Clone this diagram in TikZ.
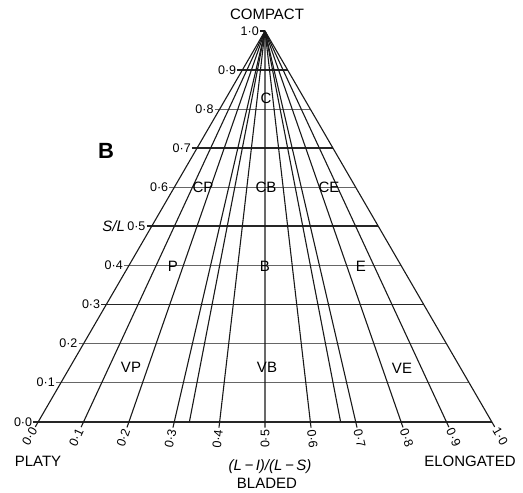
\documentclass[tikz,border=0pt]{standalone}
\usepackage{fontspec}
\setmainfont{Liberation Sans}
\usetikzlibrary{calc}
\begin{document}
\begin{tikzpicture}[x=1pt,y=-1pt,
  lbl/.style={font=\fontsize{15}{15}\selectfont, inner sep=0pt},
  num/.style={font=\fontsize{12.5}{12.5}\selectfont, inner sep=0pt},
  ray/.style={line width=1.1pt, black!90},
  hthin/.style={line width=1pt, black!60},
  hthick/.style={line width=1.8pt, black!85}]
\useasboundingbox (0,0) rectangle (523,493);
\coordinate (A) at (265,31);
\coordinate (L) at (38.3,421.7);
\coordinate (R) at (491.7,421.7);
% level coordinates
\foreach \i in {0,...,10}{
  \pgfmathsetmacro\v{\i/10}
  \coordinate (hl\i) at ($(L)!\v!(A)$);
  \coordinate (hr\i) at ($(R)!\v!(A)$);
  \coordinate (b\i) at ($(L)!\v!(R)$);
}
\coordinate (b13) at ($(L)!0.33333!(R)$);
\coordinate (b23) at ($(L)!0.66667!(R)$);
% horizontal lines
\foreach \i/\st in {1/hthin,2/hthin,3/hthick,4/hthin,5/hthick,6/hthin,7/hthick,8/hthin,9/hthick}{
  \draw[\st] ([xshift=-5pt]hl\i) -- (hr\i);
}
\draw[hthick] ([xshift=-5pt]hl0) -- (R);
\draw[ray] ([xshift=-5pt]A) -- (A);
% radial lines
\foreach \i in {0,...,10}{
  \draw[ray] (A) -- ($(b\i)!-6pt!(A)$);
}
\draw[ray] (A) -- (b13);
\draw[ray] (A) -- (b23);
% left axis labels
\foreach \i in {0,...,10}{
  \node[num, anchor=east] (yl\i) at ([xshift=-6pt]hl\i) {\ifnum\i=10 1·0\else 0·\i\fi};
}
% bottom axis labels
\foreach \i in {0,...,10}{
  \pgfmathsetmacro\xb{38.3+\i*45.34}
  \pgfmathsetmacro\ang{atan2(390.7,265-\xb)}
  \ifnum\i<6
    \node[num, anchor=east, rotate=\ang] (xl\i) at ($(b\i)!-8pt!(A)$) {\ifnum\i=10 1·0\else 0·\i\fi};
  \else
    \pgfmathsetmacro\angb{\ang-180}
    \node[num, anchor=west, rotate=\angb] (xl\i) at ($(b\i)!-8pt!(A)$) {\ifnum\i=10 1·0\else 0·\i\fi};
  \fi
}
% titles
\node[lbl] (compact) at (267,14) {COMPACT};
\node[lbl] (platy) at (38,461) {PLATY};
\node[lbl] (elong) at (470,461) {ELONGATED};
\node[lbl, font=\fontsize{15}{15}\selectfont\itshape] (ratio) at (270,467) {(L\,−\,I)/(L\,−\,S)};
\node[lbl] (bladed) at (267,483) {BLADED};
\node[lbl, font=\fontsize{15}{15}\selectfont\itshape, anchor=east] (sl) at ([xshift=-2pt]yl5.west) {S/L};
\node[lbl, font=\fontsize{22}{22}\selectfont\bfseries] (bigB) at (106,151) {B};
% region labels
\node[lbl] (rC) at (266,98) {C};
\node[lbl] (rCP) at (203,187) {CP};
\node[lbl] (rCB) at (266,187) {CB};
\node[lbl] (rCE) at (329,187) {CE};
\node[lbl] (rP) at (173,266) {P};
\node[lbl] (rB) at (265,266) {B};
\node[lbl] (rE) at (361,266) {E};
\node[lbl] (rVP) at (131,367) {VP};
\node[lbl] (rVB) at (267,367) {VB};
\node[lbl] (rVE) at (402,368) {VE};
\end{tikzpicture}
\end{document}
